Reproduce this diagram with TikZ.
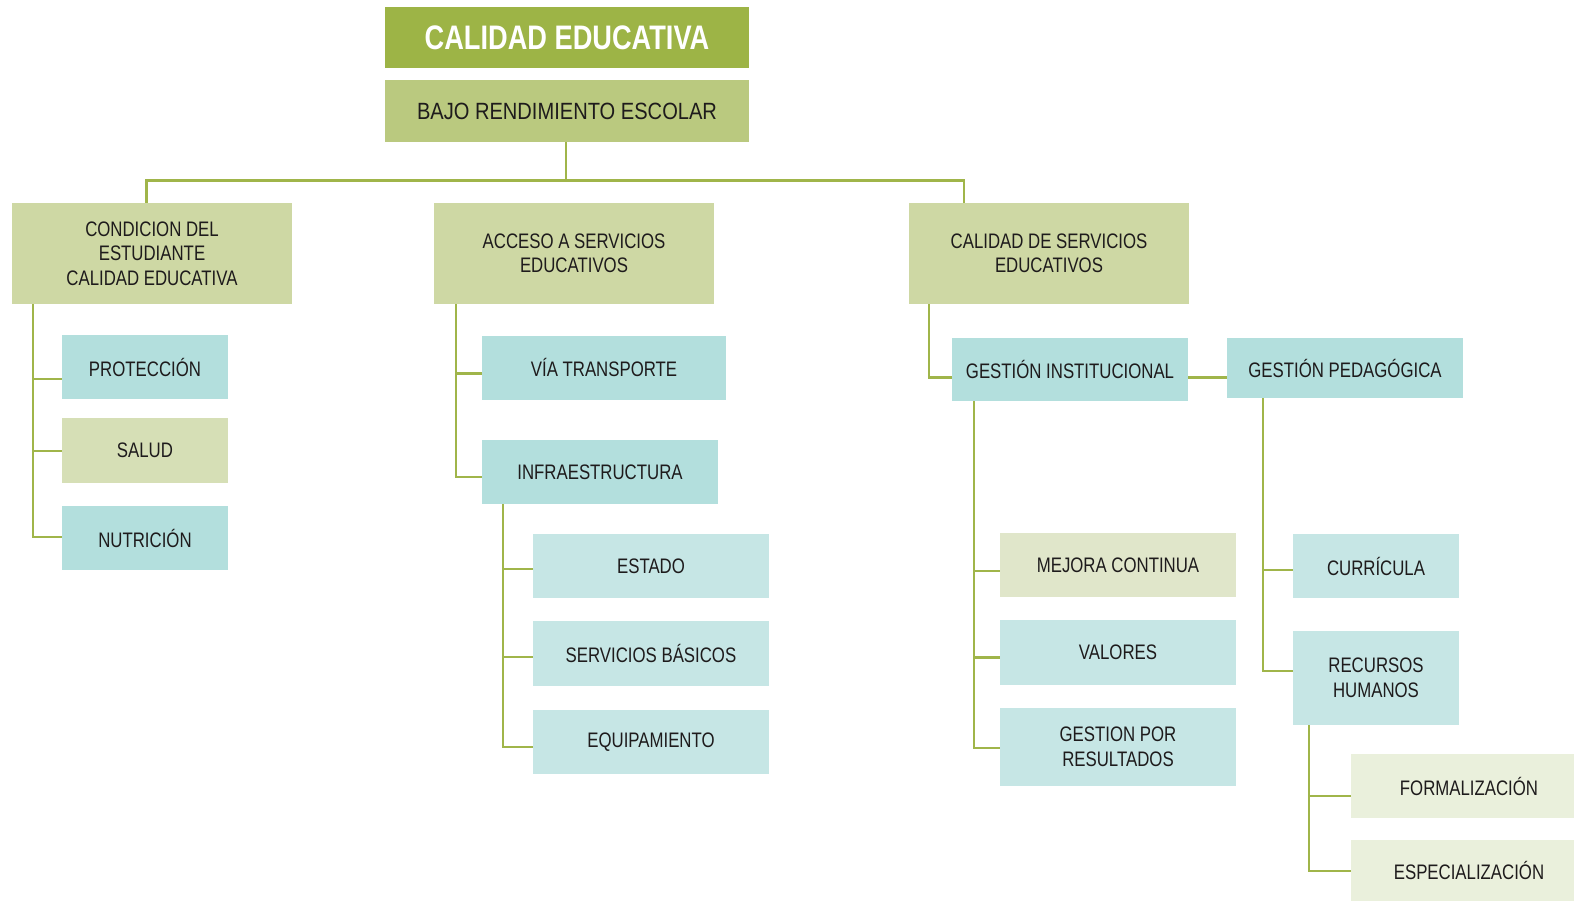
\documentclass[tikz,border=0pt]{standalone}
\usepackage{fontspec}
\setmainfont[FakeStretch=0.8]{Liberation Sans}
\newfontfamily\bajofont[FakeStretch=0.855]{Liberation Sans}
\definecolor{cTitle}{HTML}{9DB446}
\definecolor{cBajo}{HTML}{BAC97F}
\definecolor{cLev}{HTML}{CED8A4}
\definecolor{cTeal}{HTML}{B3DFDD}
\definecolor{cTealL}{HTML}{C6E6E5}
\definecolor{cSalud}{HTML}{D6DFB6}
\definecolor{cMejora}{HTML}{E0E6CA}
\definecolor{cForm}{HTML}{EAF0DC}
\definecolor{cLine}{HTML}{A0B54A}
\definecolor{cText}{HTML}{1E1B1C}
\tikzset{
  box/.style={draw=none, inner sep=0pt, align=center, text=cText,
    font=\fontsize{21}{24.5}\selectfont},
  conn/.style={draw=cLine, line width=2.8pt},
}
\begin{document}
\begin{tikzpicture}[x=1pt,y=-1pt]
\useasboundingbox (0,0) rectangle (1574,901);
% top
\node[box, fill=cTitle, minimum width=364, minimum height=61, text=white,
  font=\fontsize{34}{36}\bfseries\selectfont] (title) at (567,38) {CALIDAD EDUCATIVA};
\node[box, fill=cBajo, minimum width=364, minimum height=62,
  font=\bajofont\fontsize{23.5}{26}\selectfont] (bajo) at (567,111) {BAJO RENDIMIENTO ESCOLAR};
% level 1
\node[box, fill=cLev, minimum width=280, minimum height=101] (cond) at (152,253.5) {CONDICION DEL\\ESTUDIANTE\\CALIDAD EDUCATIVA};
\node[box, fill=cLev, minimum width=280, minimum height=101] (acc) at (574,253.5) {ACCESO A SERVICIOS\\EDUCATIVOS};
\node[box, fill=cLev, minimum width=280, minimum height=101] (cal) at (1049,253.5) {CALIDAD DE SERVICIOS\\EDUCATIVOS};
% left tree
\node[box, fill=cTeal, minimum width=166, minimum height=64] (prot) at (145,367) {PROTECCIÓN};
\node[box, fill=cSalud, minimum width=166, minimum height=65] (sal) at (145,450.5) {SALUD};
\node[box, fill=cTeal, minimum width=166, minimum height=64] (nut) at (145,538) {NUTRICIÓN};
% middle tree
\node[box, fill=cTeal, minimum width=244, minimum height=64] (via) at (604,367.5) {VÍA TRANSPORTE};
\node[box, fill=cTeal, minimum width=236, minimum height=64] (inf) at (600,472) {INFRAESTRUCTURA};
\node[box, fill=cTealL, minimum width=236, minimum height=64] (est) at (651,566) {ESTADO};
\node[box, fill=cTealL, minimum width=236, minimum height=65] (ser) at (651,653.5) {SERVICIOS BÁSICOS};
\node[box, fill=cTealL, minimum width=236, minimum height=64] (equ) at (651,742) {EQUIPAMIENTO};
% right tree
\node[box, fill=cTeal, minimum width=236, minimum height=63] (gi) at (1070,369.5) {GESTIÓN INSTITUCIONAL};
\node[box, fill=cTeal, minimum width=236, minimum height=60] (gp) at (1345,368) {GESTIÓN PEDAGÓGICA};
\node[box, fill=cMejora, minimum width=236, minimum height=64] (mej) at (1118,565) {MEJORA CONTINUA};
\node[box, fill=cTealL, minimum width=236, minimum height=65] (val) at (1118,652.5) {VALORES};
\node[box, fill=cTealL, minimum width=236, minimum height=78] (gpr) at (1118,747) {GESTION POR\\RESULTADOS};
\node[box, fill=cTealL, minimum width=166, minimum height=64] (cur) at (1376,566) {CURRÍCULA};
\node[box, fill=cTealL, minimum width=166, minimum height=94] (rh) at (1376,678) {RECURSOS\\HUMANOS};
\node[box, fill=cForm, minimum width=236, minimum height=64] (for) at (1469,786) {FORMALIZACIÓN};
\node[box, fill=cForm, minimum width=236, minimum height=61] (esp) at (1469,870.5) {ESPECIALIZACIÓN};
% connectors
\draw[conn] (bajo.south -| 566,0) -- (566,180.7);
\draw[conn] (cond.north -| 146.6,0) -- (146.6,180.7) -- (964,180.7) -- (cal.north -| 964,0);
\draw[conn] (cond.south -| 33,0) |- (prot.west |- 0,379);
\draw[conn] (sal.west |- 0,451) -- (33,451);
\draw[conn] (nut.west |- 0,537) -| (33,379);
\draw[conn] (acc.south -| 456,0) |- (via.west |- 0,373.5);
\draw[conn] (inf.west |- 0,477) -| (456,373.5);
\draw[conn] (inf.south -| 503,0) |- (est.west |- 0,569);
\draw[conn] (ser.west |- 0,657) -- (503,657);
\draw[conn] (equ.west |- 0,747) -| (503,569);
\draw[conn] (cal.south -| 929,0) |- (gi.west |- 0,377.5);
\draw[conn] (gi.east |- 0,377.5) -- (gp.west |- 0,377.5);
\draw[conn] (gi.south -| 974,0) |- (mej.west |- 0,571);
\draw[conn] (val.west |- 0,657.6) -- (974,657.6);
\draw[conn] (gpr.west |- 0,748) -| (974,571);
\draw[conn] (gp.south -| 1263,0) |- (cur.west |- 0,570);
\draw[conn] (rh.west |- 0,671) -| (1263,570);
\draw[conn] (rh.south -| 1309,0) |- (for.west |- 0,796);
\draw[conn] (esp.west |- 0,871) -| (1309,796);
\end{tikzpicture}
\end{document}
